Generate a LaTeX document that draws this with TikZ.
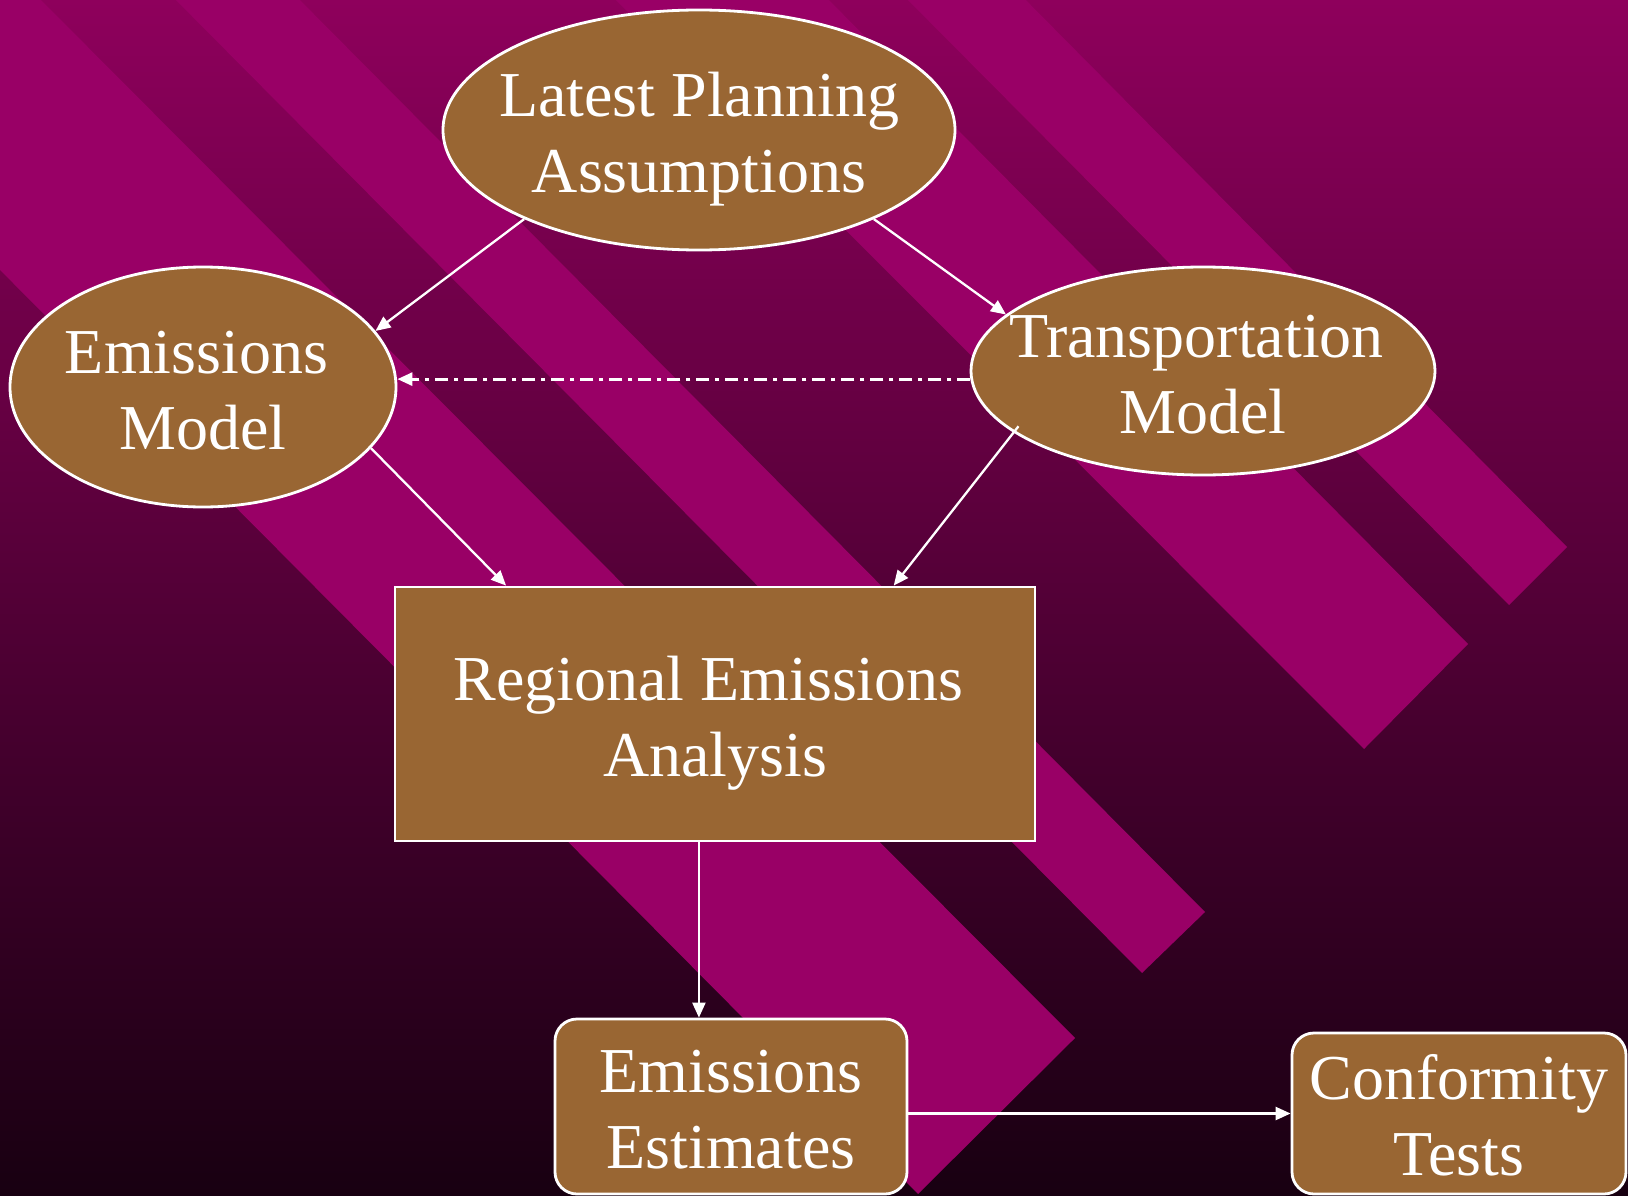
\documentclass[tikz,border=0pt]{standalone}
\usepackage{fontspec}
\setmainfont{Liberation Serif}
\usetikzlibrary{arrows.meta,shapes.geometric,calc}

\definecolor{bgtop}{RGB}{142,0,92}
\definecolor{bgbottom}{RGB}{24,0,17}
\definecolor{bandcolor}{RGB}{153,0,102}
\definecolor{boxfill}{RGB}{153,102,51}

% strut giving every text line the same height and depth
\newcommand{\lblstrut}{\rule[-16pt]{0pt}{74pt}}
% trailing space kept at the end of a centred line
\newcommand{\trailsp}{\hspace*{13pt}}

\tikzset{
  shapebase/.style={draw=white, line width=2.8pt, fill=boxfill, inner sep=0pt},
  oval/.style={shapebase, ellipse},
  squarebox/.style={shapebase, rectangle},
  roundbox/.style={shapebase, rectangle, rounded corners=22pt},
  caption/.style={text=white, font=\fontsize{64}{76}\selectfont, align=center, inner sep=0pt, yshift=-3pt},
  link/.style={draw=white, line width=2.3pt, -{Triangle[length=15pt,width=13pt]}},
  dashlink/.style={link, line width=2.8pt, dash pattern=on 13pt off 6pt on 4pt off 6pt},
  band/.style={fill=bandcolor}
}

\begin{document}
\begin{tikzpicture}[x=1pt,y=-1pt]
\useasboundingbox (0,0) rectangle (1628,1196);

% background gradient and diagonal bands
\shade[top color=bgtop, bottom color=bgbottom] (0,0) rectangle (1628,1196);
\begin{scope}
  \clip (0,0) rectangle (1628,1196);
  \fill[band] (21,-20) -- (1075,1038) -- (918,1194) -- (-288,-20) -- cycle;
  \fill[band] (280,-20) -- (1205,912) -- (1142,973) -- (156,-20) -- cycle;
  \fill[band] (809,-20) -- (1468,644) -- (1364,749) -- (596,-20) -- cycle;
  \fill[band] (1006,-20) -- (1567,547) -- (1509,605) -- (888,-20) -- cycle;
\end{scope}

% shapes
\node[oval, minimum width=512pt, minimum height=240pt] (lpa) at (699,130) {};
\node[oval, minimum width=386pt, minimum height=240pt] (em) at (203,387) {};
\node[oval, minimum width=464pt, minimum height=208pt] (tm) at (1203,371) {};
\node[squarebox, minimum width=640pt, minimum height=254pt] (rea) at (715,714) {};
\node[roundbox, minimum width=352pt, minimum height=175pt] (ee) at (731,1106.5) {};
\node[roundbox, minimum width=334pt, minimum height=161pt] (ct) at (1459,1113.5) {};

% texts
\node[caption] (lpa-t) at (lpa.center) {\lblstrut Latest Planning\\\lblstrut Assumptions};
\node[caption] (em-t) at (em.center) {\lblstrut Emissions\trailsp\\\lblstrut Model};
\node[caption] (tm-t) at (tm.center) {\lblstrut Transportation\trailsp\\\lblstrut Model};
\node[caption] (rea-t) at (rea.center) {\lblstrut Regional Emissions\trailsp\\\lblstrut Analysis};
\node[caption] (ee-t) at (ee.center) {\lblstrut Emissions\\\lblstrut Estimates};
\node[caption] (ct-t) at (ct.center) {\lblstrut Conformity\\\lblstrut Tests};

% connection points on the analysis box
\coordinate (rea-inl) at ($(rea.north west)!0.175!(rea.north east)$);
\coordinate (rea-inr) at ($(rea.north west)!0.778!(rea.north east)$);
\coordinate (rea-out) at ($(rea.south west)!0.475!(rea.south east)$);

% connectors
\draw[link] (lpa.207) -- (em.18);
\draw[link] (lpa.333) -- (tm.164);
\draw[dashlink] (tm.182) -- (em.east |- tm.182);
\draw[link] (em.340) -- (rea-inl);
\draw[link, shorten <=-8pt] (tm.198) -- (rea-inr);
\draw[link] (rea-out) -- (rea-out |- ee.north);
\draw[link] (ee.east |- ct.west) -- (ct.west);
\end{tikzpicture}
\end{document}
